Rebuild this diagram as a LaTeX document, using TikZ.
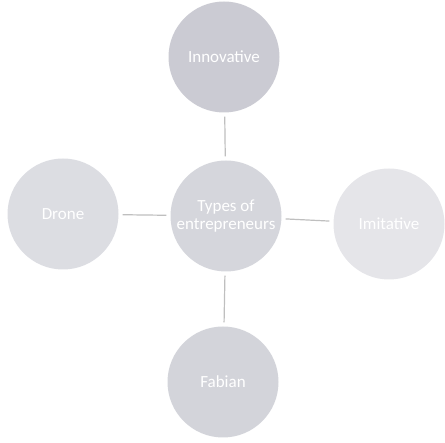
\documentclass[tikz,border=0pt]{standalone}
\usepackage{fontspec}
\setmainfont{Carlito}
\usetikzlibrary{positioning}
\definecolor{tone}{RGB}{150,152,168}

\begin{document}
\begin{tikzpicture}[x=1pt, y=-1pt, type/.style={circle, minimum size=111pt, inner sep=0pt, text=white, font=\fontsize{17}{18}\selectfont, align=center}, link/.style={draw=black!25, line width=1.2pt, shorten >=4pt, shorten <=4pt}]
\useasboundingbox (0,0) rectangle (445,443);
\node[type, fill=tone!50] (innov) at (224,57) {Innovative};
\node[type, fill=tone!33] (drone) at (63,214) {Drone};
\node[type, fill=tone!40] (types) at (226,216) {Types of\\ entrepreneurs};
\node[type, fill=tone!25] (imit) at (389,224) {Imitative};
\node[type, fill=tone!42] (fabian) at (223,382) {Fabian};
\draw[link] (innov) -- (types); \draw[link] (drone) -- (types);
\draw[link] (types) -- (imit); \draw[link] (types) -- (fabian);
\end{tikzpicture}
\end{document}
